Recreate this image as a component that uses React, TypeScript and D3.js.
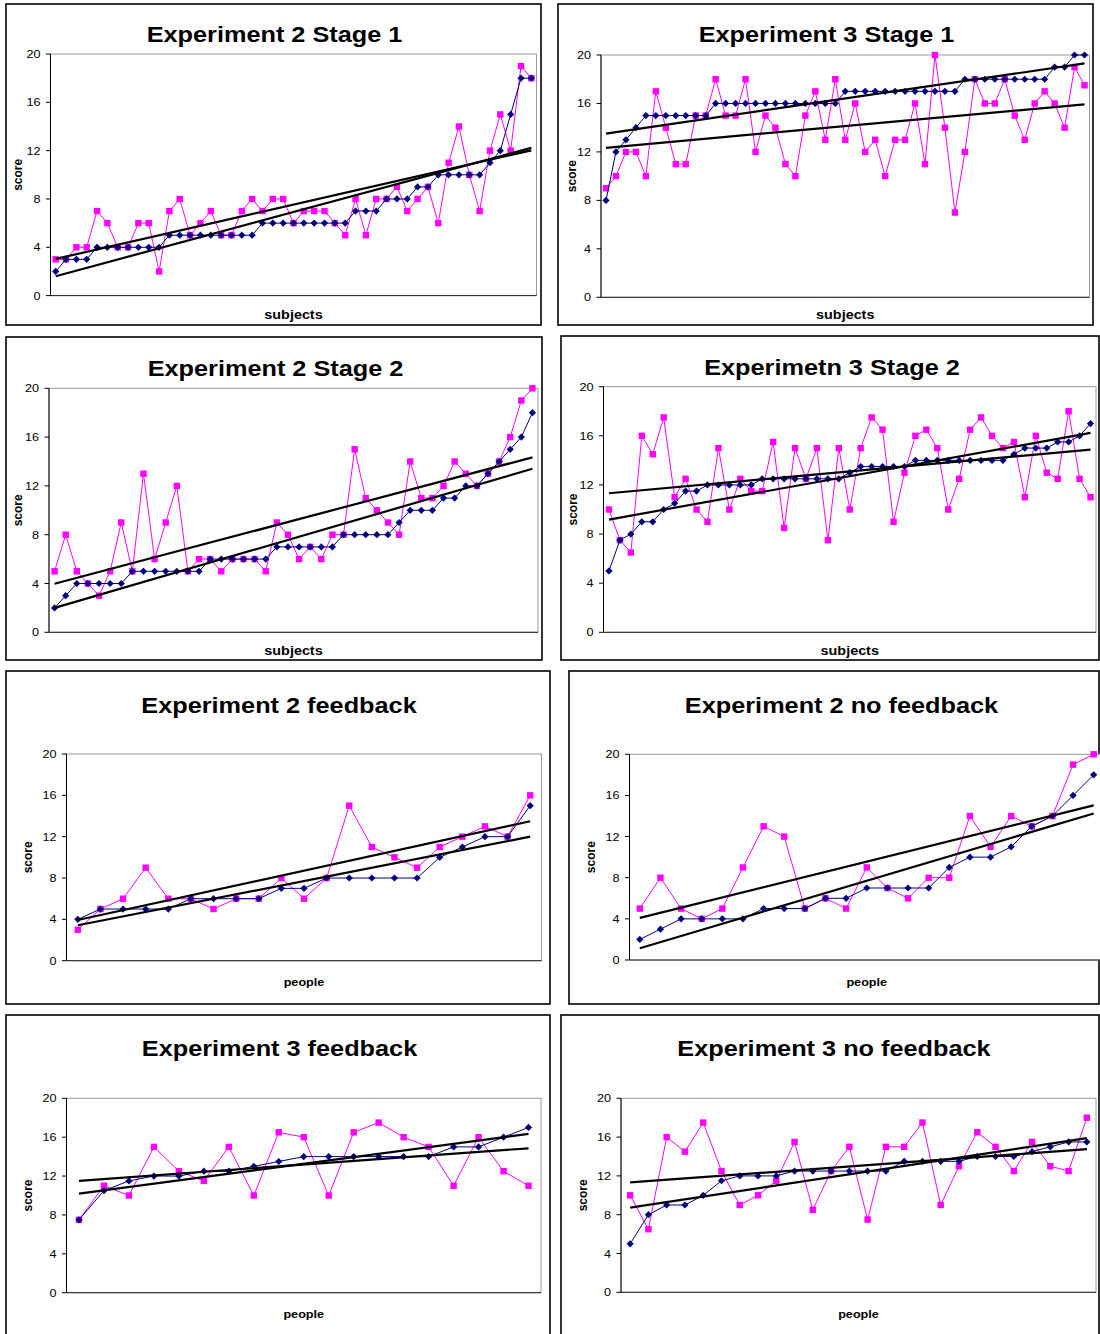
import React from "react";
import * as d3 from "d3";

// scores, in subject order
const yTicks = [0, 4, 8, 12, 16, 20];

const e2s1Blue = [2, 3, 3, 3, 4, 4, 4, 4, 4, 4, 4, 5, 5, 5, 5, 5, 5, 5, 5, 5, 6, 6, 6, 6, 6, 6, 6, 6, 6, 7, 7, 7, 8, 8, 8, 9, 9, 10, 10, 10, 10, 10, 11, 12, 15, 18, 18];
const e2s1Pink = [3, 3, 4, 4, 7, 6, 4, 4, 6, 6, 2, 7, 8, 5, 6, 7, 5, 5, 7, 8, 7, 8, 8, 6, 7, 7, 7, 6, 5, 8, 5, 8, 8, 9, 7, 8, 9, 6, 11, 14, 10, 7, 12, 15, 12, 19, 18];

const e3s1Blue = [8, 12, 13, 14, 15, 15, 15, 15, 15, 15, 15, 16, 16, 16, 16, 16, 16, 16, 16, 16, 16, 16, 16, 16, 17, 17, 17, 17, 17, 17, 17, 17, 17, 17, 17, 17, 18, 18, 18, 18, 18, 18, 18, 18, 18, 19, 19, 20, 20];
const e3s1Pink = [9, 10, 12, 12, 10, 17, 14, 11, 11, 15, 15, 18, 15, 15, 18, 12, 15, 14, 11, 10, 15, 17, 13, 18, 13, 16, 12, 13, 10, 13, 13, 16, 11, 20, 14, 7, 12, 18, 16, 16, 18, 15, 13, 16, 17, 16, 14, 19, 17.5];

const e2s2Blue = [2, 3, 4, 4, 4, 4, 4, 5, 5, 5, 5, 5, 5, 5, 6, 6, 6, 6, 6, 6, 7, 7, 7, 7, 7, 7, 8, 8, 8, 8, 8, 9, 10, 10, 10, 11, 11, 12, 12, 13, 14, 15, 16, 18];
const e2s2Pink = [5, 8, 5, 4, 3, 5, 9, 5, 13, 6, 9, 12, 5, 6, 6, 5, 6, 6, 6, 5, 9, 8, 6, 7, 6, 8, 8, 15, 11, 10, 9, 8, 14, 11, 11, 12, 14, 13, 12, 13, 14, 16, 19, 20];

const e3s2Blue = [5, 7.5, 8, 9, 9, 10, 10.5, 11.5, 11.5, 12, 12, 12, 12, 12, 12.5, 12.5, 12.5, 12.5, 12.5, 12.5, 12.5, 12.5, 13, 13.5, 13.5, 13.5, 13.5, 13.5, 14, 14, 14, 14, 14, 14, 14, 14, 14, 14.5, 15, 15, 15, 15.5, 15.5, 16, 17];
const e3s2Pink = [10, 7.5, 6.5, 16, 14.5, 17.5, 11, 12.5, 10, 9, 15, 10, 12.5, 11.5, 11.5, 15.5, 8.5, 15, 12.5, 15, 7.5, 15, 10, 15, 17.5, 16.5, 9, 13, 16, 16.5, 15, 10, 12.5, 16.5, 17.5, 16, 15, 15.5, 11, 16, 13, 12.5, 18, 12.5, 11];

const e2fbBlue = [4, 5, 5, 5, 5, 6, 6, 6, 6, 7, 7, 8, 8, 8, 8, 8, 10, 11, 12, 12, 15];
const e2fbPink = [3, 5, 6, 9, 6, 6, 5, 6, 6, 8, 6, 8, 15, 11, 10, 9, 11, 12, 13, 12, 16];

const e2nfBlue = [2, 3, 4, 4, 4, 4, 5, 5, 5, 6, 6, 7, 7, 7, 7, 9, 10, 10, 11, 13, 14, 16, 18];
const e2nfPink = [5, 8, 5, 4, 5, 9, 13, 12, 5, 6, 5, 9, 7, 6, 8, 8, 14, 11, 14, 13, 14, 19, 20];

const e3fbBlue = [7.5, 10.5, 11.5, 12, 12, 12.5, 12.5, 13, 13.5, 14, 14, 14, 14, 14, 14, 15, 15, 16, 17];
const e3fbPink = [7.5, 11, 10, 15, 12.5, 11.5, 15, 10, 16.5, 16, 10, 16.5, 17.5, 16, 15, 11, 16, 12.5, 11];

const e3nfBlue = [5, 8, 9, 9, 10, 11.5, 12, 12, 12, 12.5, 12.5, 12.5, 12.5, 12.5, 12.5, 13.5, 13.5, 13.5, 13.5, 14, 14, 14, 14.5, 15, 15.5, 15.5];
const e3nfPink = [10, 6.5, 16, 14.5, 17.5, 12.5, 9, 10, 11.5, 15.5, 8.5, 12.5, 15, 7.5, 15, 15, 17.5, 9, 13, 16.5, 15, 12.5, 15.5, 13, 12.5, 18];

const FONT = '"Liberation Sans", Arial, Helvetica, sans-serif';
const STRETCH = 1.15; // the source image is a bit wider than tall
const NAVY = "#000080";
const MAGENTA = "#ff00ff";

type Panel = {
  title: string;
  xLabel: string;
  blue: number[];
  pink: number[];
  box: [number, number, number, number];
  plot: [number, number, number, number];
  titleX: number;
  titleY: number;
  scoreX: number;
  labelY: number;
  labelSize: number;
};

const panels: Panel[] = [
  { title: "Experiment 2 Stage 1", xLabel: "subjects", blue: e2s1Blue, pink: e2s1Pink,
    box: [6, 4, 541, 325], plot: [50.5, 54, 536.5, 295.6], titleX: 274.5, titleY: 41.5, scoreX: 18, labelY: 319, labelSize: 12.5 },
  { title: "Experiment 3 Stage 1", xLabel: "subjects", blue: e3s1Blue, pink: e3s1Pink,
    box: [558, 4, 1093, 325], plot: [601, 55, 1089.5, 297.3], titleX: 826.5, titleY: 41.5, scoreX: 572, labelY: 319, labelSize: 12.5 },
  { title: "Experiment 2 Stage 2", xLabel: "subjects", blue: e2s2Blue, pink: e2s2Pink,
    box: [6, 337, 542, 660], plot: [49, 388.3, 538, 632.3], titleX: 275.5, titleY: 375.5, scoreX: 18, labelY: 655, labelSize: 12.5 },
  { title: "Experimetn 3 Stage 2", xLabel: "subjects", blue: e3s2Blue, pink: e3s2Pink,
    box: [561, 336, 1099, 660], plot: [603.5, 386.7, 1096, 632.3], titleX: 832, titleY: 374.5, scoreX: 573, labelY: 655, labelSize: 12.5 },
  { title: "Experiment 2 feedback", xLabel: "people", blue: e2fbBlue, pink: e2fbPink,
    box: [6, 671, 550, 1004], plot: [66.5, 754, 541.5, 960.7], titleX: 279, titleY: 712.5, scoreX: 28, labelY: 986, labelSize: 11 },
  { title: "Experiment 2 no feedback", xLabel: "people", blue: e2nfBlue, pink: e2nfPink,
    box: [569, 671, 1099, 1004], plot: [629.5, 754.3, 1104, 960], titleX: 841.5, titleY: 712.5, scoreX: 591, labelY: 986, labelSize: 11 },
  { title: "Experiment 3 feedback", xLabel: "people", blue: e3fbBlue, pink: e3fbPink,
    box: [6, 1015, 550, 1345], plot: [66.5, 1098.3, 541, 1292.7], titleX: 279.5, titleY: 1055.5, scoreX: 28, labelY: 1318, labelSize: 11 },
  { title: "Experiment 3 no feedback", xLabel: "people", blue: e3nfBlue, pink: e3nfPink,
    box: [561, 1015, 1099, 1345], plot: [621, 1098.3, 1096, 1292.3], titleX: 834, titleY: 1055.5, scoreX: 583, labelY: 1318, labelSize: 11 },
];

// Excel style linear trendline, x = 1..n
const linearFit = (values: number[]) => {
  const xs = d3.range(1, values.length + 1);
  const mx = d3.mean(xs)!;
  const my = d3.mean(values)!;
  const sxy = d3.sum(xs, (xv, i) => (xv - mx) * (values[i] - my));
  const sxx = d3.sum(xs, (xv) => (xv - mx) * (xv - mx));
  const slope = sxy / sxx;
  return (xv: number) => my + slope * (xv - mx);
};

const SText = ({ x, y, size, bold, anchor = "middle", children }: any) => (
  <text
    transform={`translate(${x},${y}) scale(${STRETCH},1)`}
    fontSize={size}
    fontWeight={bold ? "bold" : "normal"}
    textAnchor={anchor}
    fontFamily={FONT}
    fill="#000"
  >
    {children}
  </text>
);

const diamond = "M0,-3.6L3.6,0L0,3.6L-3.6,0Z";

const Chart = ({ p }: { p: Panel }) => {
  const [l, t, r, b] = p.plot;
  const n = p.blue.length;
  const x = d3.scalePoint<number>().domain(d3.range(n)).range([l, r]).padding(0.5);
  const y = d3.scaleLinear().domain([0, 20]).range([b, t]);
  const line = d3.line<number>().x((_, i) => x(i)!).y((d) => y(d));
  const trends = [p.pink, p.blue].map((vals) => {
    const f = linearFit(vals);
    return [
      [x(0)!, y(f(1))],
      [x(n - 1)!, y(f(n))],
    ];
  });
  const [bx0, by0, bx1, by1] = p.box;

  return (
    <g>
      <rect x={bx0} y={by0} width={bx1 - bx0} height={by1 - by0} fill="#fff" stroke="#000" strokeWidth={1.6} />
      <SText x={p.titleX} y={p.titleY} size={22} bold>
        {p.title}
      </SText>

      <rect x={l} y={t} width={r - l} height={b - t} fill="#fff" stroke="#9a9a9a" strokeWidth={1} />
      <line x1={l} x2={l} y1={t} y2={b} stroke="#000" strokeWidth={1} />
      <line x1={l} x2={r} y1={b} y2={b} stroke="#222" strokeWidth={1} />

      {yTicks.map((v) => (
        <g key={v}>
          <line x1={l - 4.5} x2={l} y1={y(v)} y2={y(v)} stroke="#000" strokeWidth={1} />
          <SText x={l - 10} y={y(v) + 4} size={11} anchor="end">
            {v}
          </SText>
        </g>
      ))}

      <text
        transform={`translate(${p.scoreX + 4},${(t + b) / 2}) rotate(-90)`}
        fontSize={12}
        fontWeight="bold"
        textAnchor="middle"
        fontFamily={FONT}
      >
        score
      </text>
      <SText x={(l + r) / 2} y={p.labelY} size={p.labelSize} bold>
        {p.xLabel}
      </SText>

      <path d={line(p.pink)!} fill="none" stroke={MAGENTA} strokeWidth={1} />
      {p.pink.map((v, i) => (
        <rect key={i} x={x(i)! - 3.2} y={y(v) - 3.2} width={6.4} height={6.4} fill={MAGENTA} />
      ))}

      <path d={line(p.blue)!} fill="none" stroke={NAVY} strokeWidth={1} />
      {p.blue.map((v, i) => (
        <path key={i} d={diamond} transform={`translate(${x(i)},${y(v)})`} fill={NAVY} />
      ))}

      {trends.map((seg, k) => (
        <line key={k} x1={seg[0][0]} y1={seg[0][1]} x2={seg[1][0]} y2={seg[1][1]} stroke="#000" strokeWidth={2.2} />
      ))}
    </g>
  );
};

export default function App() {
  return (
    <div style={{ position: "absolute", left: 0, top: 0 }}>
      <svg width={1100} height={1334} style={{ display: "block", background: "#fff" }}>
        {panels.map((p) => (
          <Chart key={p.title} p={p} />
        ))}
      </svg>
    </div>
  );
}
